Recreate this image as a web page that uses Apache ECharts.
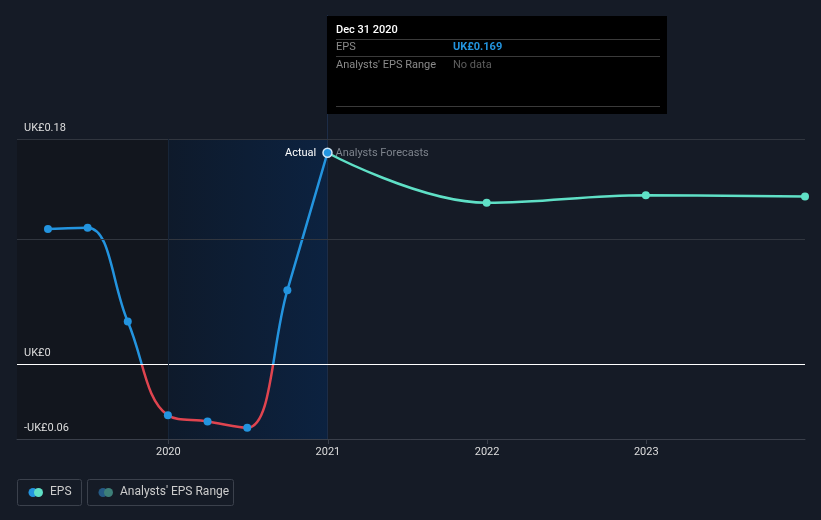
<!DOCTYPE html>
<html>
<head>
<meta charset="utf-8">
<script src="https://cdn.jsdelivr.net/npm/echarts@6/dist/echarts.min.js"></script>
<style>
html,body{margin:0;padding:0;background:#151b26;}
#chart{width:821px;height:520px;}
#err{position:absolute;left:0;top:0;color:#f88;font:10px monospace;white-space:pre;}
</style>
</head>
<body>
<div id="chart"></div>
<div id="err"></div>
<script>
const actualDates = ['2019-03-31','2019-06-30','2019-09-30','2019-12-31','2020-03-31','2020-06-30','2020-09-30','2020-12-31'];
const actualEps = [0.108, 0.109, 0.034, -0.041, -0.046, -0.051, 0.059, 0.169];
const forecastDates = ['2020-12-31','2021-12-31','2022-12-31','2023-12-31'];
const forecastEps = [0.169, 0.129, 0.135, 0.134];
const yearTicks = ['2020-01-01','2021-01-01','2022-01-01','2023-01-01'];
const yLabelValues = [-0.06, 0, 0.18];
const gridValues = [0.18, 0.1];
const xMin = '2019-01-19';
const xMax = '2023-12-31';
const pastEnd = '2020-01-01';
const highlightEnd = '2021-01-01';

const FONT = 'Roboto, "Noto Sans", sans-serif';
const ts = d => Date.parse(d + 'T00:00:00Z');
const actualData = actualDates.map((d, i) => [ts(d), actualEps[i]]);
const forecastData = forecastDates.map((d, i) => [ts(d), forecastEps[i]]);
const lastIdx = actualData.length - 1;
const yearTs = yearTicks.map(ts);
const H = 520;

try {
const chart = echarts.init(document.getElementById('chart'));
const option = {
  backgroundColor: '#151b26',
  animation: false,
  textStyle: {fontFamily: FONT},
  grid: {left: 17, right: 16, top: 139, bottom: 81},
  xAxis: {
    type: 'value',
    min: ts(xMin), max: ts(xMax),
    axisLine: {onZero: false, lineStyle: {color: '#3a3f4a'}},
    splitLine: {show: false},
    axisTick: {show: true, length: 5, lineStyle: {color: '#3a3f4a'}, customValues: yearTs},
    axisLabel: {color: '#dddddd', fontSize: 11, margin: 8, fontFamily: FONT,
      customValues: yearTs,
      formatter: v => String(new Date(v).getUTCFullYear())}
  },
  yAxis: {
    type: 'value', z: 10,
    min: -0.06, max: 0.18, interval: 0.02,
    axisLine: {show: false}, axisTick: {show: false},
    splitLine: {show: false},
    axisLabel: {
      inside: true, margin: 7, color: '#dddddd', fontSize: 11, fontFamily: FONT,
      verticalAlign: 'bottom', padding: [0, 0, 5, 0],
      customValues: yLabelValues,
      formatter: v => {
        const r = Math.round(v * 100) / 100;
        if (r === 0) return 'UK£0';
        return (r < 0 ? '-' : '') + 'UK£' + Math.abs(r).toFixed(2);
      }
    }
  },
  series: [
    {
      type: 'line', name: 'EPS', data: actualData, smooth: 0.4,
      showSymbol: false, lineStyle: {width: 2.5, color: '#2394df'}, z: 3,
      markArea: {
        silent: true,
        data: [
          [{xAxis: ts(xMin), itemStyle: {color: '#12161e'}}, {xAxis: ts(pastEnd)}],
          [{xAxis: ts(pastEnd), itemStyle: {color: {type: 'linear', x: 0, y: 0, x2: 1, y2: 0,
            colorStops: [{offset: 0, color: '#0e1a2b'}, {offset: 1, color: '#0c2240'}]}}},
           {xAxis: ts(highlightEnd)}]
        ]
      },
      markLine: {
        silent: true, symbol: 'none', label: {show: false},
        data: [
          ...gridValues.map(v => ({yAxis: v, lineStyle: {color: '#31363f', width: 1, type: 'solid'}})),
          {yAxis: 0, lineStyle: {color: '#ffffff', width: 1, type: 'solid'}},
          {xAxis: ts(pastEnd), lineStyle: {color: '#172538', width: 1, type: 'solid'}}
        ]
      }
    },
    {
      type: 'line', name: 'Forecast', smooth: 0.4,
      symbol: 'circle', symbolSize: 8, showSymbol: true,
      itemStyle: {color: '#5fe0c6'}, lineStyle: {width: 2.5, color: '#5fe0c6'}, z: 3,
      data: forecastData.map((p, i) => i === 0 ? {value: p, symbolSize: 0,
        label: {show: true, position: 'right', distance: 8, formatter: 'Analysts Forecasts', color: '#7d838c', fontSize: 11, fontFamily: FONT}} : {value: p})
    },
    {
      type: 'scatter', name: 'EPS points', z: 5,
      symbolSize: 8, itemStyle: {color: '#2394df', opacity: 1},
      data: actualData.map((p, i) => i === lastIdx ? {
        value: p, symbolSize: 9,
        itemStyle: {color: '#2394df', borderColor: '#cfe6f7', borderWidth: 1.5, opacity: 1},
        label: {show: true, position: 'left', distance: 6, formatter: 'Actual', color: '#ffffff', fontSize: 11, fontFamily: FONT}
      } : {value: p})
    }
  ]
};
chart.setOption(option);

// colour the actual line red below zero, using the axis scale
const zeroY = chart.convertToPixel({yAxisIndex: 0}, 0);
const f = zeroY / H;
chart.setOption({series: [{name: 'EPS', lineStyle: {color: {
  type: 'linear', global: true, x: 0, y: 0, x2: 0, y2: H,
  colorStops: [{offset: 0, color: '#2394df'}, {offset: f, color: '#2394df'},
               {offset: f, color: '#e0444f'}, {offset: 1, color: '#e0444f'}]}}}]});

const cx = chart.convertToPixel({xAxisIndex: 0}, actualData[lastIdx][0]);
const by = chart.convertToPixel({yAxisIndex: 0}, -0.06);
const tx = 327, ty = 16;
chart.setOption({
  graphic: [
    {type: 'line', shape: {x1: cx, y1: 15, x2: cx, y2: by}, style: {stroke: '#1e2e48', lineWidth: 1}, z: 1, silent: true},
    {type: 'rect', shape: {x: tx, y: ty, width: 340, height: 98}, style: {fill: '#000000'}, z: 10},
    {type: 'text', x: tx + 9, y: ty + 9, style: {text: 'Dec 31 2020', fill: '#ffffff', font: '500 11px ' + FONT}, z: 11},
    {type: 'line', shape: {x1: tx + 9, y1: ty + 23.5, x2: tx + 333, y2: ty + 23.5}, style: {stroke: '#3a3a3a', lineWidth: 1}, z: 11},
    {type: 'text', x: tx + 9, y: ty + 26, style: {text: 'EPS', fill: '#8a8a8a', font: '11px ' + FONT}, z: 11},
    {type: 'text', x: tx + 126, y: ty + 26, style: {text: 'UK£0.169', fill: '#2394df', font: 'bold 11px ' + FONT}, z: 11},
    {type: 'line', shape: {x1: tx + 9, y1: ty + 40.5, x2: tx + 333, y2: ty + 40.5}, style: {stroke: '#3a3a3a', lineWidth: 1}, z: 11},
    {type: 'text', x: tx + 9, y: ty + 44, style: {text: "Analysts' EPS Range", fill: '#8a8a8a', font: '11px ' + FONT}, z: 11},
    {type: 'text', x: tx + 126, y: ty + 44, style: {text: 'No data', fill: '#5e5e5e', font: '11px ' + FONT}, z: 11},
    {type: 'line', shape: {x1: tx + 9, y1: ty + 90.5, x2: tx + 333, y2: ty + 90.5}, style: {stroke: '#3a3a3a', lineWidth: 1}, z: 11},
    {type: 'rect', shape: {x: 17.5, y: 479.5, width: 64, height: 26, r: 2}, style: {fill: 'none', stroke: '#3b414c', lineWidth: 1}, z: 10},
    {type: 'circle', shape: {cx: 33, cy: 492.5, r: 4.5}, style: {fill: '#2394df'}, z: 11},
    {type: 'circle', shape: {cx: 38.5, cy: 492.5, r: 4.5}, style: {fill: '#5fe0c6'}, z: 12},
    {type: 'text', x: 50, y: 486, style: {text: 'EPS', fill: '#cccccc', font: '12px ' + FONT}, z: 11},
    {type: 'rect', shape: {x: 87.5, y: 479.5, width: 146, height: 26, r: 2}, style: {fill: 'none', stroke: '#3b414c', lineWidth: 1}, z: 10},
    {type: 'circle', shape: {cx: 103, cy: 492.5, r: 4.5}, style: {fill: '#255a85'}, z: 11},
    {type: 'circle', shape: {cx: 108.5, cy: 492.5, r: 4.5}, style: {fill: '#3d7f78'}, z: 12},
    {type: 'text', x: 120, y: 486, style: {text: "Analysts' EPS Range", fill: '#cccccc', font: '12px ' + FONT}, z: 11}
  ]
});
} catch (e) {
  document.getElementById('err').textContent = e.stack;
}
</script>
</body>
</html>
